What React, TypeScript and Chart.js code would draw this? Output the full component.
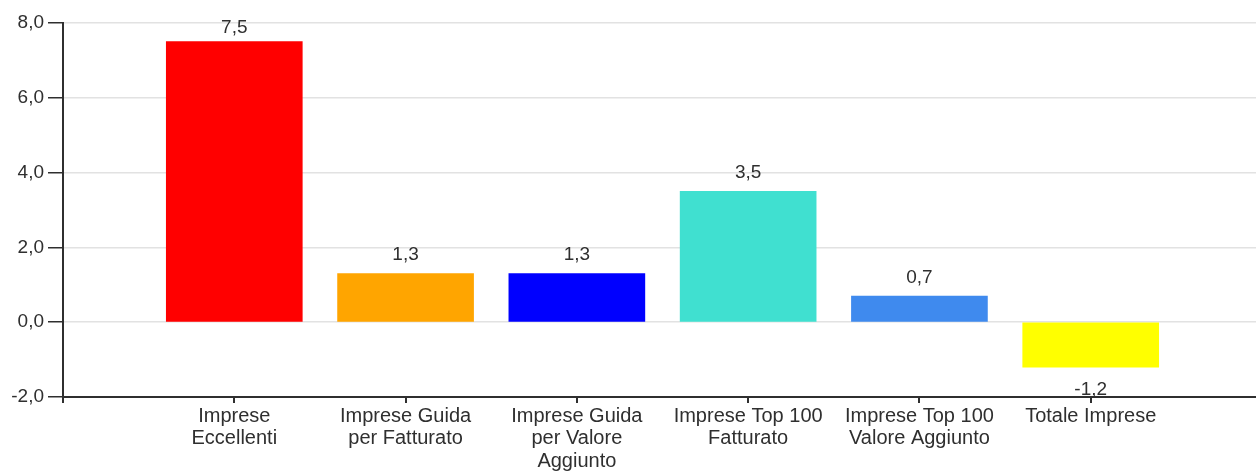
import React, { useEffect, useRef } from "react";
import { Chart, registerables } from "chart.js";

Chart.register(...registerables);

const categories: (string | string[])[] = [
  "",
  ["Imprese", "Eccellenti"],
  ["Imprese Guida", "per Fatturato"],
  ["Imprese Guida", "per Valore", "Aggiunto"],
  ["Imprese Top 100", "Fatturato"],
  ["Imprese Top 100", "Valore Aggiunto"],
  "Totale Imprese",
  "",
];
const values: (number | null)[] = [null, 7.5, 1.3, 1.3, 3.5, 0.7, -1.2, null];
const barColors: string[] = [
  "rgba(0,0,0,0)",
  "#FF0000",
  "#FFA500",
  "#0000FF",
  "#40E0D0",
  "#3F8AEE",
  "#FFFF00",
  "rgba(0,0,0,0)",
];
const yMin = -2;
const yMax = 8;
const yStep = 2;

const FONT = '"Liberation Sans", Arial, sans-serif';
const TEXT = "#2f2f2f";

const fmt = (v: number) => v.toFixed(1).replace(".", ",");

const valueLabels = {
  id: "valueLabels",
  afterDatasetsDraw(chart: any) {
    const ctx = chart.ctx;
    const meta = chart.getDatasetMeta(0);
    const area = chart.chartArea;
    ctx.save();
    ctx.font = `19px ${FONT}`;
    ctx.fillStyle = TEXT;
    ctx.textAlign = "center";
    ctx.textBaseline = "alphabetic";
    meta.data.forEach((el: any, i: number) => {
      const v = values[i];
      if (v === null || v === undefined) return;
      let y: number;
      if (v >= 0) {
        y = Math.max(el.y - 13.5, area.top + 10);
      } else {
        y = el.y + 28;
      }
      ctx.fillText(fmt(v), el.x, y);
    });
    ctx.restore();
  },
};

export default function App() {
  const ref = useRef<HTMLCanvasElement | null>(null);

  useEffect(() => {
    if (!ref.current) return;
    Chart.defaults.font.family = FONT;
    const chart = new Chart(ref.current, {
      type: "bar",
      data: {
        labels: categories as any,
        datasets: [
          {
            data: values as any,
            backgroundColor: barColors,
            borderWidth: 0,
            barThickness: 136,
          },
        ],
      },
      options: {
        responsive: false,
        animation: false,
        layout: { padding: { top: 23, left: 0, right: 0, bottom: 0 } },
        plugins: {
          legend: { display: false },
          tooltip: { enabled: false },
        },
        scales: {
          x: {
            type: "category",
            offset: false,
            afterFit: (scale: any) => {
              scale.height = 78;
            },
            grid: {
              offset: false,
              drawOnChartArea: false,
              drawTicks: true,
              tickLength: 6,
              tickColor: TEXT,
              lineWidth: 2,
            },
            border: { display: true, color: TEXT, width: 2 },
            ticks: {
              font: { size: 20, family: FONT, lineHeight: 1.12 },
              color: TEXT,
              padding: 2,
              maxRotation: 0,
              minRotation: 0,
              autoSkip: false,
            },
          },
          y: {
            type: "linear",
            min: yMin,
            max: yMax,
            afterFit: (scale: any) => {
              scale.width = 63;
            },
            grid: {
              color: "#e2e2e2",
              lineWidth: 1.5,
              drawTicks: true,
              tickLength: 15,
              tickColor: TEXT,
            },
            border: { display: true, color: TEXT, width: 2 },
            ticks: {
              stepSize: yStep,
              font: { size: 19, family: FONT },
              color: TEXT,
              padding: 4,
              callback: (v: any) => fmt(Number(v)),
            },
          },
        },
      },
      plugins: [valueLabels],
    });
    return () => chart.destroy();
  }, []);

  return (
    <div
      style={{
        position: "fixed",
        left: 0,
        top: 0,
        width: 1256,
        height: 475,
        overflow: "hidden",
        background: "#ffffff",
      }}
    >
      <canvas ref={ref} width={1264} height={475} style={{ display: "block" }} />
    </div>
  );
}
